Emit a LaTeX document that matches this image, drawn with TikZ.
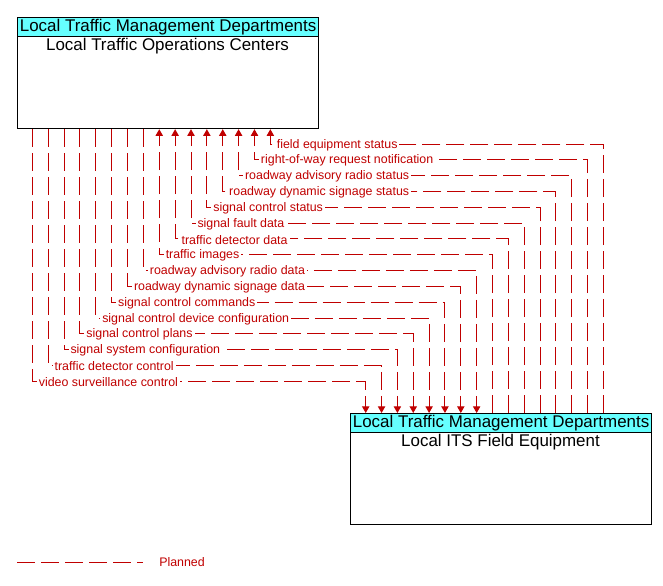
\documentclass[tikz,border=0pt]{standalone}
\usepackage{fontspec}
\setmainfont{Liberation Sans}
\usetikzlibrary{arrows.meta}
\definecolor{flowred}{RGB}{192,0,0}
\definecolor{hdrcyan}{RGB}{102,255,255}
\begin{document}
\begin{tikzpicture}[x=0.75pt,y=-0.75pt,
  box/.style={draw=black, line width=0.9pt, fill=white, minimum width=225.75pt, minimum height=83.25pt, anchor=north west, inner sep=0pt},
  hdr/.style={draw=black, line width=0.9pt, fill=hdrcyan, minimum width=225.75pt, minimum height=14.25pt, anchor=north west, inner sep=0pt, font=\fontsize{12.7pt}{14pt}\selectfont},
  ttl/.style={font=\fontsize{12.7pt}{14pt}\selectfont, inner sep=0pt},
  flow/.style={draw=flowred, line width=0.75pt, dash pattern=on 13.5pt off 4.5pt},
  tip/.style={-{Triangle[width=5.5pt,length=5pt]}},
  lbltext/.style={font=\fontsize{9.3pt}{11pt}\selectfont, text=flowred, anchor=west},
  lbl/.style={lbltext, fill=white, inner xsep=1.5pt, inner ysep=0.3pt, xshift=3pt, yshift=-0.6pt, solid},
]
\useasboundingbox (0,0) rectangle (663,585);
% boxes
\node[box] (top) at (17,17) {};
\node[hdr] (tophdr) at (17,17) {Local Traffic Management Departments};
\node[ttl] (toptitle) at (167.5,46.5) {Local Traffic Operations Centers};
\node[box] (bot) at (350,413) {};
\node[hdr] (bothdr) at (350,413) {Local Traffic Management Departments};
\node[ttl] (bottitle) at (500.5,442.5) {Local ITS Field Equipment};
% flows
\foreach \lab [count=\j from 0] in {field equipment status, right-of-way request notification, roadway advisory radio status, roadway dynamic signage status, signal control status, signal fault data, traffic detector data, traffic images, roadway advisory radio data, roadway dynamic signage data, signal control commands, signal control device configuration, signal control plans, signal system configuration, traffic detector control, video surveillance control}{
  \pgfmathsetmacro\yy{144+15.83*\j}
  \pgfmathsetmacro\xl{32.3+15.87*(15-\j)}
  \pgfmathsetmacro\xr{365.7+15.85*(15-\j)}
  \coordinate (l\j) at (\xl,\yy);
  \coordinate (r\j) at (\xr,\yy);
  \ifnum\j<8
    \draw[flow, tip] (bot.north -| r\j) -- (r\j) -- (l\j) node[lbl] {\lab} -- (top.south -| l\j);
  \else
    \draw[flow, tip] (top.south -| l\j) -- (l\j) node[lbl] {\lab} -- (r\j) -- (bot.north -| r\j);
  \fi
}
% legend
\coordinate (lg1) at (17,562);
\coordinate (lg2) at (143,562);
\draw[flow] (lg1) -- (lg2);
\node[lbltext, inner xsep=0pt] (legend) at (159,562.5) {Planned};
\end{tikzpicture}
\end{document}
